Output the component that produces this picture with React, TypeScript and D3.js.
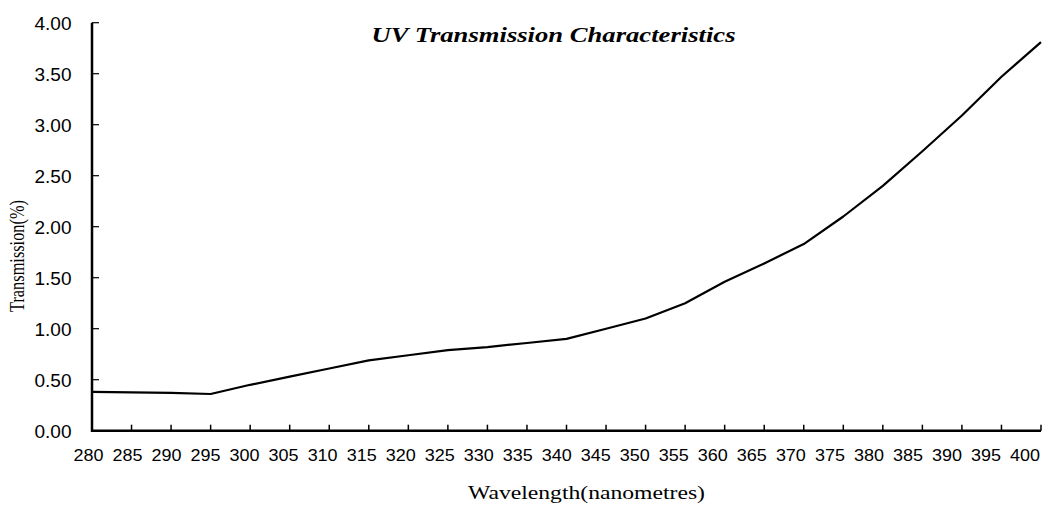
import React, { useEffect, useRef } from "react";
import * as d3 from "d3";

// wavelength categories (nm)
const wavelengths: number[] = [
  280, 285, 290, 295, 300, 305, 310, 315, 320, 325, 330, 335, 340,
  345, 350, 355, 360, 365, 370, 375, 380, 385, 390, 395, 400,
];

// transmission in %
const transmission: number[] = [
  0.38, 0.375, 0.37, 0.36, 0.45, 0.53, 0.61, 0.69, 0.74, 0.79, 0.82, 0.86, 0.9,
  1.0, 1.1, 1.25, 1.46, 1.64, 1.83, 2.1, 2.4, 2.74, 3.09, 3.47, 3.81,
];

const yTicks: number[] = [0, 0.5, 1, 1.5, 2, 2.5, 3, 3.5, 4];

const chartTitle = "UV Transmission Characteristics";
const xTitle = "Wavelength(nanometres)";
const yTitle = "Transmission(%)";

const App: React.FC = () => {
  const svgRef = useRef<SVGSVGElement | null>(null);

  useEffect(() => {
    const svg = d3.select(svgRef.current);
    svg.selectAll("*").remove();

    const width = 1060;
    const height = 505;
    const plot = { left: 92, right: 1041, top: 22.7, bottom: 430.7 };

    const x = d3.scaleLinear().domain([280, 400]).range([plot.left, plot.right]);
    // labels drift a bit left of their ticks in the original
    const xLabel = d3.scaleLinear().domain([280, 400]).range([88.5, 1025]);
    const y = d3.scaleLinear().domain([0, 4]).range([plot.bottom, plot.top]);

    svg.attr("width", width).attr("height", height);
    svg.append("rect").attr("width", width).attr("height", height).attr("fill", "white");

    // title
    svg.append("text")
      .attr("x", 371.5)
      .attr("y", 42)
      .attr("textLength", 364)
      .attr("lengthAdjust", "spacingAndGlyphs")
      .style("font-family", "'Liberation Serif', 'DejaVu Serif', serif")
      .style("font-size", "21px")
      .style("font-weight", "bold")
      .style("font-style", "italic")
      .text(chartTitle);

    // y ticks (inside) + labels
    const yAxis = svg.append("g");
    yAxis.selectAll("line")
      .data(yTicks)
      .enter()
      .append("line")
      .attr("x1", plot.left)
      .attr("x2", plot.left + 7)
      .attr("y1", (d) => y(d))
      .attr("y2", (d) => y(d))
      .attr("stroke", "black")
      .attr("stroke-width", 1.2);

    yAxis.selectAll("text")
      .data(yTicks)
      .enter()
      .append("text")
      .attr("x", 71.5)
      .attr("y", (d) => y(d) + 7)
      .attr("text-anchor", "end")
      .style("font-family", "'Liberation Sans', Arial, sans-serif")
      .style("font-size", "19px")
      .text((d) => d.toFixed(2));

    // x ticks (inside) + labels
    const xAxis = svg.append("g");
    xAxis.selectAll("line")
      .data(wavelengths)
      .enter()
      .append("line")
      .attr("x1", (d) => x(d))
      .attr("x2", (d) => x(d))
      .attr("y1", plot.bottom)
      .attr("y2", plot.bottom - 6)
      .attr("stroke", "black")
      .attr("stroke-width", 1.5);

    xAxis.selectAll("text")
      .data(wavelengths)
      .enter()
      .append("text")
      .attr("x", (d) => xLabel(d) - 15)
      .attr("y", 461)
      .attr("textLength", 30)
      .attr("lengthAdjust", "spacingAndGlyphs")
      .style("font-family", "'Liberation Sans', Arial, sans-serif")
      .style("font-size", "16px")
      .text((d) => String(d));

    // axis lines
    svg.append("path")
      .attr("d", `M${plot.left},${plot.top}V${plot.bottom}H${plot.right}`)
      .attr("fill", "none")
      .attr("stroke", "black")
      .attr("stroke-width", 2.5);

    // axis titles
    svg.append("text")
      .attr("x", 468)
      .attr("y", 499)
      .attr("textLength", 237)
      .attr("lengthAdjust", "spacingAndGlyphs")
      .style("font-family", "'Liberation Serif', 'DejaVu Serif', serif")
      .style("font-size", "18px")
      .text(xTitle);

    svg.append("text")
      .attr("transform", `translate(24,312) rotate(-90)`)
      .attr("textLength", 112)
      .attr("lengthAdjust", "spacingAndGlyphs")
      .style("font-family", "'Liberation Serif', 'DejaVu Serif', serif")
      .style("font-size", "20px")
      .text(yTitle);

    // the curve
    const line = d3.line<number>()
      .x((_, i) => x(wavelengths[i]))
      .y((d) => y(d));

    svg.append("path")
      .datum(transmission)
      .attr("d", line)
      .attr("fill", "none")
      .attr("stroke", "black")
      .attr("stroke-width", 2.2)
      .attr("stroke-linejoin", "round");
  }, []);

  return (
    <svg
      ref={svgRef}
      style={{ position: "absolute", left: 0, top: 0, display: "block" }}
    />
  );
};

export default App;
